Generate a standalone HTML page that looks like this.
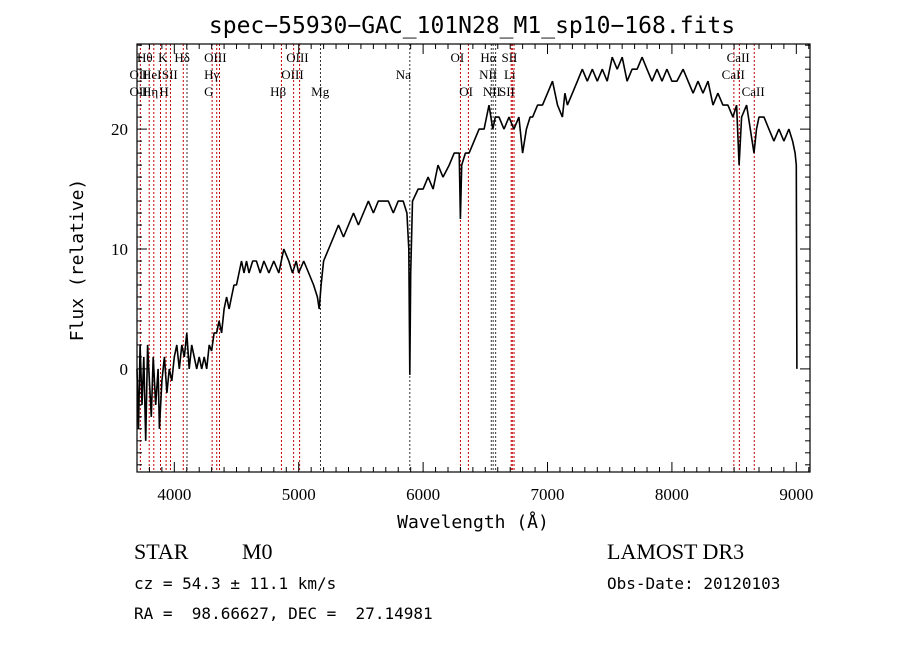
<!DOCTYPE html>
<html><head><meta charset="utf-8"><style>
body{margin:0;background:#fff;width:900px;height:649px;overflow:hidden}
svg{display:block}
.t{font-family:"DejaVu Sans Mono","Liberation Mono",monospace;white-space:pre}
.s{font-family:"Liberation Serif","DejaVu Serif",serif}
</style></head><body>
<svg id="chart" width="900" height="649" viewBox="0 0 900 649">
<text class="t" x="472" y="33" text-anchor="middle" font-size="23">spec−55930−GAC_101N28_M1_sp10−168.fits</text>
<g id="lines"></g>
<g id="labels" class="s" font-size="13"></g>
<path id="spec" fill="none" stroke="#000" stroke-width="1.6" stroke-linejoin="bevel"/>
<rect x="137" y="44" width="673" height="428" fill="none" stroke="#000" stroke-width="1.2"/>
<g id="ticks" stroke="#000" stroke-width="1"></g>
<g id="ticklabels" class="s" font-size="17"></g>
<text class="t" x="473" y="528" text-anchor="middle" font-size="18">Wavelength (Å)</text>
<text class="t" transform="translate(83,260) rotate(-90)" text-anchor="middle" font-size="18">Flux (relative)</text>
<text class="s" x="134" y="559" font-size="22">STAR</text>
<text class="s" x="242" y="559" font-size="22">M0</text>
<text class="t" x="134" y="589" font-size="16" xml:space="preserve">cz = 54.3 ± 11.1 km/s</text>
<text class="t" x="134" y="619" font-size="16" xml:space="preserve">RA =  98.66627, DEC =  27.14981</text>
<text class="s" x="607" y="559" font-size="22">LAMOST DR3</text>
<text class="t" x="607" y="589" font-size="16">Obs-Date: 20120103</text>
</svg>
<script>
const wave=[3700,3712,3725,3740,3755,3770,3785,3800,3815,3830,
3850,3870,3880,3900,3920,3940,3960,3980,4000,4020,
4040,4060,4080,4100,4120,4140,4160,4180,4200,4220,
4240,4260,4280,4300,4320,4340,4360,4380,4400,4420,
4440,4460,4480,4500,4520,4540,4560,4580,4600,4630,
4660,4690,4720,4760,4800,4840,4880,4920,4950,4980,
5000,5040,5080,5120,5150,5165,5180,5200,5240,5280,
5320,5360,5400,5440,5480,5520,5560,5600,5640,5680,
5720,5760,5800,5840,5870,5885,5893,5900,5915,5960,
6000,6040,6080,6120,6160,6210,6250,6290,6300,6310,
6340,6370,6410,6450,6490,6530,6545,6560,6580,6610,
6650,6690,6730,6770,6800,6830,6860,6880,6920,6960,
7000,7040,7080,7120,7140,7160,7200,7240,7280,7320,
7360,7400,7440,7480,7520,7560,7600,7640,7680,7720,
7760,7800,7840,7880,7920,7960,8000,8040,8090,8130,
8170,8210,8250,8290,8330,8370,8410,8450,8490,8520,
8540,8560,8600,8630,8660,8680,8700,8740,8780,8820,
8860,8900,8940,8970,8990,9000,9005];
const flux=[0,-5,2,-3,1,-6,2,-1,-4,1,
-3,0,-5,-1,1,-2,0,-1,1,2,
0,2,1,3,0,2,1,0,1,0,
1,0,2,1.5,3,3,4,3,5,6,
5,6,7,7,8,9,8,9,8,9,
9,8,9,8,9,8,10,9,8,9,
8,9,8,7,6,5,7,9,10,11,
12,11,12,13,12,13,14,13,14,14,
14,13,14,14,13,10,-0.5,8,14,15,
15,16,15,17,16,17,18,18,12.5,17,
18,18,19,20,20,22,21,20,21,21,
20,21,20,21,18,20,21,21,22,22,
23,24,22,21,23,22,23,24,25,24,
25,24,25,24,26,25,26,24,25,25,
26,25,24,25,24,25,24,24,25,24,
23,24,23,24,22,23,22,22,21,22,
17,21,22,20,18,20,21,21,20,19,
20,19,20,19,18,17,0];
const lineWaves=[3727,3798,3835,3889,3934,3969,4072,4102,4304,4341,4363,4861,4959,5007,5175,5893,6300,6364,6548,6563,6583,6708,6717,6731,8498,8542,8662];
const lineDark=[0,0,0,0,0,0,0,1,0,0,0,0,0,0,1,1,0,0,1,1,1,0,0,0,0,0,0];
const xTicks=[4000,5000,6000,7000,8000,9000];
const yTicks=[0,10,20];
const labelText=["Hθ","K","Hδ","OIII","OIII","OI","Hα","SII","CaII","OII","HeI","SII","Hγ","OIII","Na","NII","Li","CaII","OII","Hη","H","G","Hβ","Mg","OI","NII","SII","CaII"];
const labelWave=[3700,3870,4000,4240,4900,6220,6460,6630,8440,3640,3740,3900,4240,4860,5780,6450,6650,8400,3640,3740,3880,4240,4770,5100,6290,6480,6610,8560];
const labelRow=[1,1,1,1,1,1,1,1,1,2,2,2,2,2,2,2,2,2,3,3,3,3,3,3,3,3,3,3];
const NS="http://www.w3.org/2000/svg";
const X0=137,X1=810,Y0=44,Y1=472,WMIN=3700,WMAX=9110,FMIN=-8.6,FMAX=27.1;
const xs=w=>X0+(w-WMIN)/(WMAX-WMIN)*(X1-X0);
const ys=f=>Y1-(f-FMIN)/(FMAX-FMIN)*(Y1-Y0);
function mk(tag,attrs,parent){const e=document.createElementNS(NS,tag);for(const k in attrs)e.setAttribute(k,attrs[k]);parent.appendChild(e);return e;}
let d="";const n=Math.min(wave.length,flux.length);
for(let i=0;i<n;i++){d+=(i?"L":"M")+xs(wave[i]).toFixed(1)+","+ys(flux[i]).toFixed(1);}
document.getElementById("spec").setAttribute("d",d);
const lg=document.getElementById("lines");
lineWaves.forEach((w,i)=>{const l=mk("line",{x1:xs(w),x2:xs(w),y1:Y0,y2:Y1,stroke:lineDark[i]?"#333":"#c00000","stroke-width":1,"stroke-dasharray":"2,2"},lg);

});
const lb=document.getElementById("labels");
labelText.forEach((t,i)=>{const e=mk("text",{x:xs(labelWave[i]),y:45+labelRow[i]*17},lb);e.textContent=t;

});
const tg=document.getElementById("ticks"),tl=document.getElementById("ticklabels");
for(let w=3700;w<=9100;w+=100){const x=xs(w);const maj=w%1000===0;const L=maj?10:5;
mk("line",{x1:x,x2:x,y1:Y1,y2:Y1-L},tg);mk("line",{x1:x,x2:x,y1:Y0,y2:Y0+L},tg);}
for(let f=-8;f<=27;f++){const y=ys(f);const L=f%10===0?10:5;
mk("line",{x1:X0,x2:X0+L,y1:y,y2:y},tg);mk("line",{x1:X1,x2:X1-L,y1:y,y2:y},tg);}
xTicks.forEach(w=>{const e=mk("text",{x:xs(w),y:500,"text-anchor":"middle"},tl);e.textContent=w;

});
yTicks.forEach(f=>{const e=mk("text",{x:128,y:ys(f)+6,"text-anchor":"end"},tl);e.textContent=f;

});
</script>
</body></html>
